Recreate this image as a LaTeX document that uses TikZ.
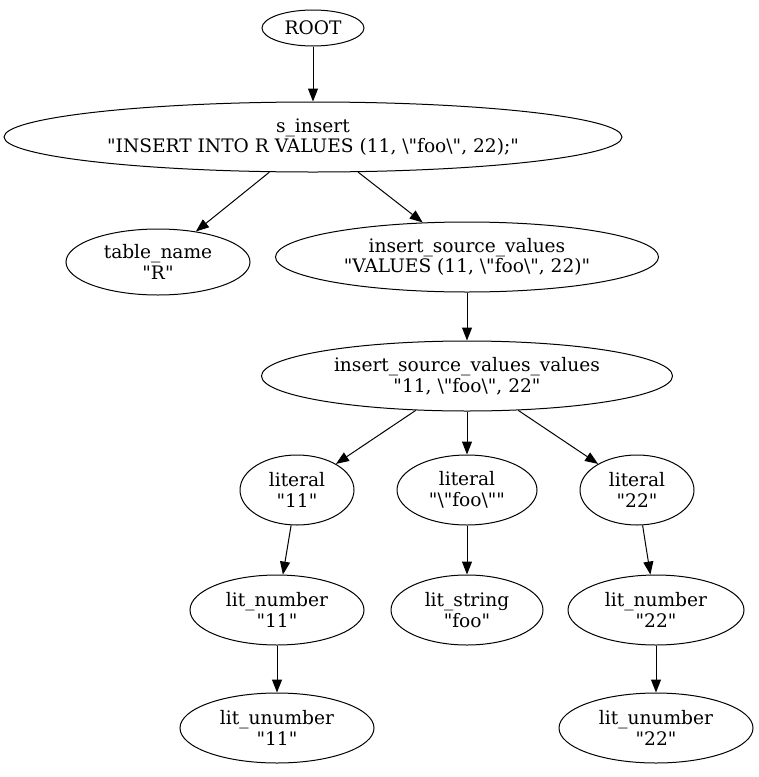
\documentclass[tikz,border=0pt]{standalone}
\usepackage{fontspec}
\setmainfont{DejaVu Serif}[Ligatures=TeXOff]
\usepackage{tikz}
\usetikzlibrary{arrows.meta, positioning, shapes, calc}
\usepackage{xcolor}

\begin{document}
\begin{tikzpicture}[x=1pt, y=-1pt,
        astnode/.style={draw, ellipse, line width=1pt, inner sep=0pt, align=center,
            font=\fontsize{18.6}{20.5}\selectfont},
        edge/.style={-{Triangle[length=13pt, width=10pt]}, line width=1pt}]
        \useasboundingbox (0,0) rectangle (759,777);

        % Draw the nodes
        \node[astnode, minimum width=102pt, minimum height=36pt] (root) at (313,28) {ROOT};
        \node[astnode, minimum width=618pt, minimum height=70pt] (sinsert) at (313,137)
            {s\_insert\\"INSERT INTO R VALUES (11, \textbackslash"foo\textbackslash", 22);"};
        \node[astnode, minimum width=184pt, minimum height=66pt] (tname) at (158,262)
            {table\_name\\"R"};
        \node[astnode, minimum width=383pt, minimum height=70pt] (isv) at (467,257)
            {insert\_source\_values\\"VALUES (11, \textbackslash"foo\textbackslash", 22)"};
        \node[astnode, minimum width=411pt, minimum height=70pt] (isvv) at (467,376)
            {insert\_source\_values\_values\\"11, \textbackslash"foo\textbackslash", 22"};
        \node[astnode, minimum width=114pt, minimum height=70pt] (lit1) at (297,490)
            {literal\\"11"};
        \node[astnode, minimum width=140pt, minimum height=70pt] (lit2) at (467,490)
            {literal\\"\textbackslash"foo\textbackslash""};
        \node[astnode, minimum width=114pt, minimum height=70pt] (lit3) at (637,490)
            {literal\\"22"};
        \node[astnode, minimum width=174pt, minimum height=70pt] (num1) at (277,610)
            {lit\_number\\"11"};
        \node[astnode, minimum width=152pt, minimum height=70pt] (str2) at (467,610)
            {lit\_string\\"foo"};
        \node[astnode, minimum width=176pt, minimum height=70pt] (num3) at (656,610)
            {lit\_number\\"22"};
        \node[astnode, minimum width=194pt, minimum height=70pt] (unum1) at (277,728)
            {lit\_unumber\\"11"};
        \node[astnode, minimum width=194pt, minimum height=70pt] (unum3) at (656,728)
            {lit\_unumber\\"22"};

        % Edges
        \draw[edge] (root) -- (sinsert);
        \draw[edge] (sinsert) -- (tname);
        \draw[edge] (sinsert) -- (isv);
        \draw[edge] (isv) -- (isvv);
        \draw[edge] (isvv) -- (lit1);
        \draw[edge] (isvv) -- (lit2);
        \draw[edge] (isvv) -- (lit3);
        \draw[edge] (lit1) -- (num1);
        \draw[edge] (lit2) -- (str2);
        \draw[edge] (lit3) -- (num3);
        \draw[edge] (num1) -- (unum1);
        \draw[edge] (num3) -- (unum3);
    \end{tikzpicture}
\end{document}
